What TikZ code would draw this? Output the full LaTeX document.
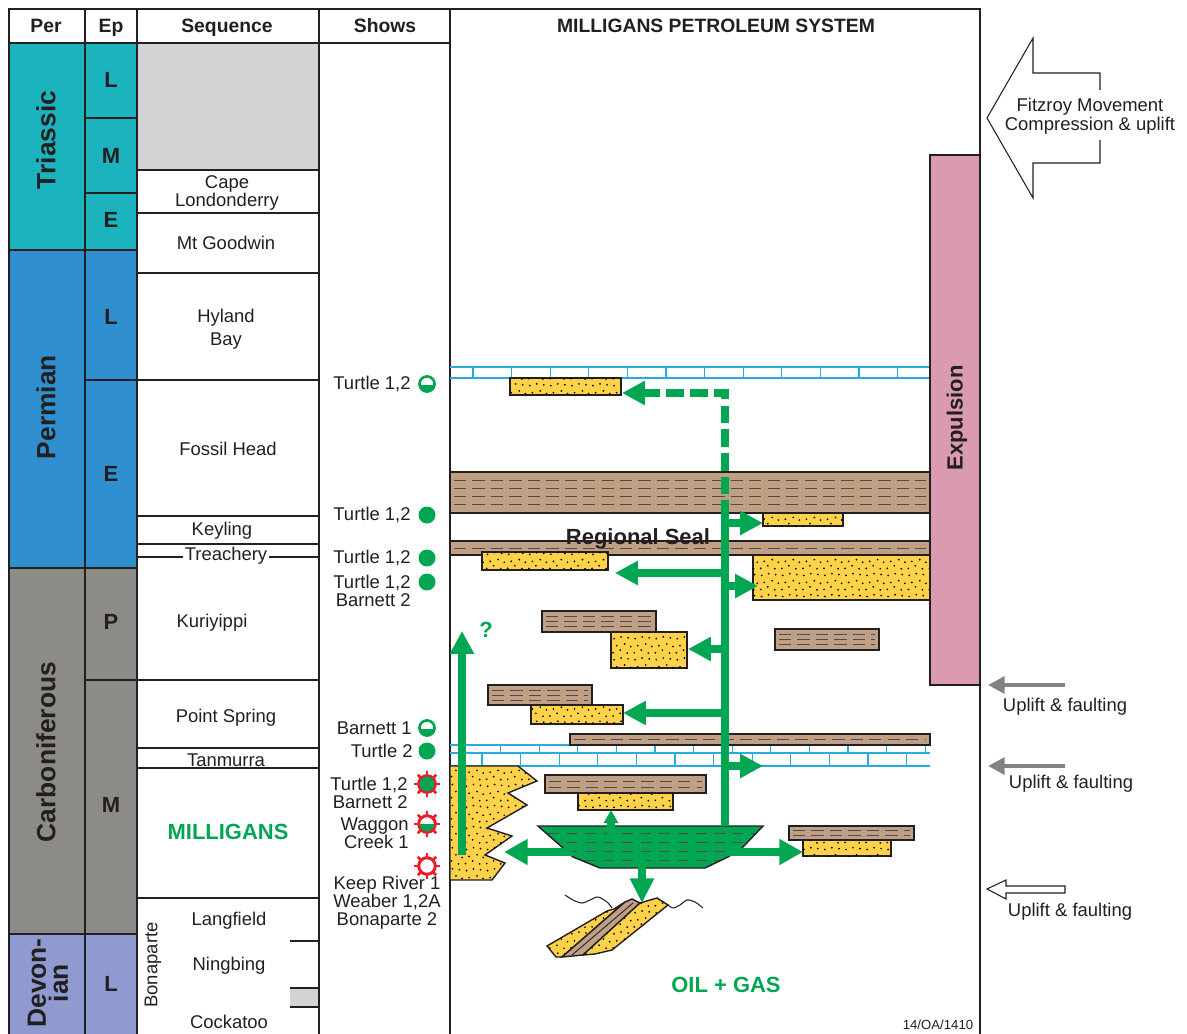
\documentclass[tikz,border=0pt]{standalone}
\usepackage{fontspec}
\setmainfont{Liberation Sans}
\usetikzlibrary{arrows.meta,patterns.meta}

\definecolor{linecol}{RGB}{35,31,32}
\definecolor{triascol}{RGB}{27,179,189}
\definecolor{permcol}{RGB}{47,143,207}
\definecolor{carbcol}{RGB}{141,139,136}
\definecolor{devcol}{RGB}{142,154,208}
\definecolor{gapgrey}{RGB}{209,211,212}
\definecolor{sandcol}{RGB}{255,210,74}
\definecolor{shalecol}{RGB}{191,160,132}
\definecolor{oilgreen}{RGB}{0,166,81}
\definecolor{expcol}{RGB}{217,154,178}
\definecolor{limecol}{RGB}{41,171,226}
\definecolor{tectgrey}{RGB}{128,130,133}
\definecolor{showred}{RGB}{237,28,36}

\tikzdeclarepattern{
  name=sanddots,
  type=uncolored,
  bottom left={(-1pt,-1pt)},
  top right={(13pt,13pt)},
  tile size={(12pt,12pt)},
  code={
    \tikzset{x=1pt,y=1pt}
    \foreach \px/\py in {1/1,5/2.5,9/0.8,3/5,7.5/6,11/4.5,1.5/9,5.5/10,9.5/9.5}
      \fill (\px,\py) circle (0.55);
  }
}

\tikzset{
  grid/.style={draw=linecol, line width=0.8pt},
  hdr/.style={font=\fontsize{11}{13}\selectfont\bfseries, text=linecol, anchor=base},
  pername/.style={font=\fontsize{15}{12.5}\selectfont\bfseries, text=linecol, rotate=90, align=center},
  epname/.style={font=\fontsize{12.5}{14}\selectfont\bfseries, text=linecol},
  seqname/.style={font=\fontsize{10.5}{10.2}\selectfont, text=linecol, align=center},
  showtxt/.style={font=\fontsize{10.5}{10.2}\selectfont, text=linecol, align=right, anchor=east, inner sep=0pt},
  sandbox/.style={draw=linecol, line width=0.8pt, fill=sandcol, postaction={pattern=sanddots, pattern color=black}},
  shalebox/.style={draw=linecol, line width=0.8pt, fill=shalecol},
  shaledash/.style={draw=black!70, line width=0.55pt, dash pattern=on 7pt off 3.5pt},
  limeline/.style={draw=limecol, line width=0.6pt},
  mig/.style={draw=oilgreen, line width=4pt, -{Triangle[length=13pt,width=13pt]}},
  migdash/.style={mig, dash pattern=on 10pt off 3.5pt},
  tectarrow/.style={draw=tectgrey, line width=2.8pt, -{Triangle[length=9.5pt,width=9.5pt]}},
  tectline/.style={draw=linecol, line width=0.6pt},
  tecttxt/.style={font=\fontsize{10.5}{10.8}\selectfont, text=linecol, align=center},
  boldtxt/.style={font=\fontsize{12.5}{14}\selectfont\bfseries}
}

\newcommand\shalebed[5]{%
  \draw[shalebox] (#1,#2) rectangle (#3,#4);
  \foreach \row in {1,...,#5}
    \draw[shaledash] ({#1+4},{#2+(#4-#2)*\row/(#5+1)}) -- ({#3-4},{#2+(#4-#2)*\row/(#5+1)});
}
\newcommand\sandbed[4]{\draw[sandbox] (#1,#2) rectangle (#3,#4);}
\newcommand\showfull[2]{\fill[oilgreen] (#1,#2) circle (8.5);}
\newcommand\showhalf[2]{%
  \fill[white] (#1,#2) circle (8);
  \fill[oilgreen] ({#1+8},{#2+1}) arc[start angle=7, end angle=173, radius=8] -- cycle;
  \draw[oilgreen, line width=1.5pt] (#1,#2) circle (7.6);}
\newcommand\showburst[3]{%
  \foreach \a in {0,45,...,315}
    \draw[showred, line width=1.5pt] (#1,#2) ++(\a:8) -- ++(\a:5);
  \draw[showred, line width=1.7pt, fill=white] (#1,#2) circle (8.3);
  \ifcase#3\or
    \fill[oilgreen] ({#1+7.4},#2) arc[start angle=0, end angle=180, radius=7.4] -- cycle;
  \or
    \fill[oilgreen] (#1,#2) circle (7.4);
  \fi}

\begin{document}
\begin{tikzpicture}[x=0.02cm, y=-0.02cm, line join=miter]
\useasboundingbox (0,0) rectangle (1187,1034);

% chart columns
\foreach \ya/\yb/\cc in {43/250/triascol, 250/568/permcol, 568/934/carbcol, 934/1040/devcol}
  \draw[grid, fill=\cc] (9,\ya) rectangle (85,\yb);
\foreach \ya/\yb/\cc in {43/118/triascol, 118/193/triascol, 193/250/triascol, 250/380/permcol,
    380/568/permcol, 568/680/carbcol, 680/934/carbcol, 934/1040/devcol}
  \draw[grid, fill=\cc] (85,\ya) rectangle (137,\yb);
\fill[gapgrey] (137,43) rectangle (319,170);
\fill[gapgrey] (290,988) rectangle (319,1007);
\foreach \yy in {170,213,273,380,516,544,557,680,748,768,898}
  \draw[grid] (137,\yy) -- (319,\yy);
\foreach \yy in {941,988,1007}
  \draw[grid] (290,\yy) -- (319,\yy);
\draw[grid] (9,1040) -- (9,9) -- (980,9) -- (980,1040);
\draw[grid] (9,43) -- (450,43);
\foreach \xx in {85,137,319,450}
  \draw[grid] (\xx,9) -- (\xx,1040);

\node[hdr] (hper) at (46,33) {Per};
\node[hdr] (hep) at (111,33) {Ep};
\node[hdr] (hseq) at (227,33) {Sequence};
\node[hdr] (hshows) at (385,33) {Shows};
\node[hdr] (hsystem) at (716,33) {MILLIGANS PETROLEUM SYSTEM};

\node[pername] (triassic) at (46,140) {Triassic};
\node[pername] (permian) at (46,407) {Permian};
\node[pername] (carbon) at (46,752) {Carboniferous};
\node[pername] (devonian) at (48,983) {Devon-\\ian};

\node[epname] (trL) at (111,80) {L};
\node[epname] (trM) at (111,156) {M};
\node[epname] (trE) at (111,220) {E};
\node[epname] (peL) at (111,317) {L};
\node[epname] (peE) at (111,474) {E};
\node[epname] (caP) at (111,622) {P};
\node[epname] (caM) at (111,805) {M};
\node[epname] (deL) at (111,984) {L};

\node[seqname] (capelond) at (227,193) {Cape\\Londonderry};
\node[seqname] (goodwin) at (226,243) {Mt Goodwin};
\node[seqname, font=\fontsize{10.5}{13}\selectfont] (hyland) at (226,329) {Hyland\\Bay};
\node[seqname] (fossil) at (228,449) {Fossil Head};
\node[seqname] (keyling) at (222,531) {Keyling};
\node[seqname, fill=white, inner xsep=1pt, inner ysep=0pt] (treach) at (226,556) {Treachery};
\node[seqname] (kuri) at (212,623) {Kuriyippi};
\node[seqname] (ptspring) at (226,718) {Point Spring};
\node[seqname] (tanm) at (226,760) {Tanmurra};
\node[boldtxt, text=oilgreen] (milligans) at (228,832) {MILLIGANS};
\node[seqname] (langf) at (229,921) {Langfield};
\node[seqname] (ningb) at (229,966) {Ningbing};
\node[seqname] (cockat) at (229,1022) {Cockatoo};
\node[seqname, rotate=90] (bonap) at (153,965) {Bonaparte};

% shows
\node[showtxt] (sh1) at (411,384) {Turtle 1,2};
\showhalf{427}{384}
\node[showtxt] (sh2) at (411,515) {Turtle 1,2};
\showfull{427}{515}
\node[showtxt] (sh3) at (411,558) {Turtle 1,2};
\showfull{427}{558}
\node[showtxt] (sh4) at (411,591) {Turtle 1,2\\Barnett 2};
\showfull{427}{582}
\node[showtxt] (sh5) at (412,728) {Barnett 1};
\showhalf{427}{728}
\node[showtxt] (sh6) at (413,751) {Turtle 2};
\showfull{427}{751}
\node[showtxt] (sh7) at (408,793) {Turtle 1,2\\Barnett 2};
\showburst{427}{784}{2}
\node[showtxt] (sh8) at (409,833) {Waggon\\Creek 1};
\showburst{427}{824}{1}
\showburst{427}{866}{0}
\node[seqname] (sh9) at (387,903) {Keep River 1\\Weaber 1,2A\\Bonaparte 2};

% petroleum system panel
\draw[limeline] (450,367) -- (930,367) (450,378) -- (930,378);
\foreach \xx in {473,511.6,...,930}
  \draw[limeline] (\xx,367) -- (\xx,378);
\draw[limeline] (450,745) -- (930,745) (450,753) -- (930,753) (450,766) -- (930,766);
\foreach \xx in {462,500.6,...,930}
  \draw[limeline] (\xx,745) -- (\xx,753);
\foreach \xx in {482,520.6,...,930}
  \draw[limeline] (\xx,753) -- (\xx,766);

\shalebed{450}{472}{930}{513}{4}
\shalebed{450}{541}{930}{555}{1}
\shalebed{542}{611}{656}{632}{3}
\shalebed{775}{629}{879}{650}{3}
\shalebed{488}{685}{592}{705}{3}
\shalebed{570}{734}{930}{745}{1}
\shalebed{545}{775}{706}{793}{2}
\shalebed{789}{826}{914}{840}{2}

\sandbed{510}{378}{621}{395}
\sandbed{763}{513}{843}{526}
\sandbed{482}{552}{608}{570}
\sandbed{753}{555}{930}{600}
\sandbed{611}{632}{687}{668}
\sandbed{531}{705}{623}{724}
\sandbed{578}{793}{673}{810}
\sandbed{803}{840}{891}{856}
\draw[sandbox] (450,766) -- (518,766) -- (537,781) -- (508,793) -- (527,805) -- (487,828)
  -- (512,836) -- (485,855) -- (505,863) -- (492,880) -- (450,880) -- cycle;

\node[boldtxt, text=linecol] (seal) at (638,539) {Regional Seal};

% source kitchen
\begin{scope}
  \clip (538,826) -- (763,826) -- (742,848) -- (728,857) -- (705,868) -- (600,868)
    -- (573,857) -- (563,848) -- cycle;
  \fill[oilgreen] (530,820) rectangle (770,870);
  \foreach \yy in {833,842,...,866}
    \draw[black!70, line width=0.55pt, dash pattern=on 6pt off 4.5pt] (530,\yy) -- (770,\yy);
\end{scope}
\draw[linecol, line width=0.8pt] (538,826) -- (763,826) -- (742,848) -- (728,857) -- (705,868)
  -- (600,868) -- (573,857) -- (563,848) -- cycle;

% folded older beds
\draw[linecol, line width=0.6pt] plot[smooth] coordinates {(565,895) (573,900) (582,903) (590,900) (598,897) (607,902) (612,908)};
\draw[linecol, line width=0.6pt] plot[smooth] coordinates {(668,905) (673,908) (680,905) (687,900) (695,902) (703,908)};
\draw[sandbox] (547,946) -- (607,911) -- (614,909) -- (625,902) -- (562,957) -- (556,957) -- cycle;
\draw[shalebox] (562,957) -- (625,902) -- (632,899) -- (640,903) -- (583,955) -- cycle;
\draw[linecol, line width=0.5pt] (572,955) -- (633,903);
\draw[sandbox] (583,955) -- (640,903) -- (650,900) -- (657,898) -- (668,905) -- (612,950) -- (595,954) -- cycle;

% migration
\draw[migdash] (725,518) -- (725,393) -- (622,393);
\draw[oilgreen, line width=4pt] (725,826) -- (725,518);
\draw[mig] (725,523) -- (763,523);
\draw[mig] (725,573) -- (615,573);
\draw[mig] (725,586) -- (758,586);
\draw[mig] (725,649) -- (688,649);
\draw[mig] (725,713) -- (623,713);
\draw[mig] (725,766) -- (763,766);
\draw[mig, -{Triangle[length=7.5pt,width=8pt]}] (611,835) -- (611,810);
\draw[mig, -{Triangle[length=13.5pt,width=14pt]}] (573,852) -- (504,852);
\draw[mig, -{Triangle[length=13.5pt,width=14pt]}] (728,852) -- (803,852);
\draw[mig, -{Triangle[length=14pt,width=13pt]}] (642,860) -- (642,903);
\draw[mig] (462,855) -- (462,631);
\node[boldtxt, text=oilgreen] (query) at (486,630) {?};

\node[boldtxt, text=oilgreen] (oilgas) at (726,985) {OIL + GAS};
\node[font=\fontsize{7.5}{8}\selectfont, text=linecol] (figno) at (938,1025) {14/OA/1410};

% expulsion and tectonics
\draw[grid, fill=expcol] (930,155) rectangle (980,685);
\node[boldtxt, text=linecol, rotate=90] (expul) at (957,418) {Expulsion};

\draw[tectline, fill=white] (1100,90) -- (1100,73) -- (1033,73) -- (1033,38) -- (987,118)
  -- (1033,198) -- (1033,163) -- (1100,163) -- (1100,140);
\node[tecttxt] (fitzroy) at (1090,116) {Fitzroy Movement\\Compression \& uplift};

\draw[tectarrow] (1065,685) -- (988,685);
\node[tecttxt] (uplift1) at (1065,707) {Uplift \& faulting};
\draw[tectarrow] (1065,766) -- (988,766);
\node[tecttxt] (uplift2) at (1071,784) {Uplift \& faulting};
\draw[tectline, fill=white] (987,889) -- (1006,880) -- (1006,886) -- (1065,886) -- (1065,893)
  -- (1006,893) -- (1006,899) -- cycle;
\node[tecttxt] (uplift3) at (1070,912) {Uplift \& faulting};
\end{tikzpicture}
\end{document}
